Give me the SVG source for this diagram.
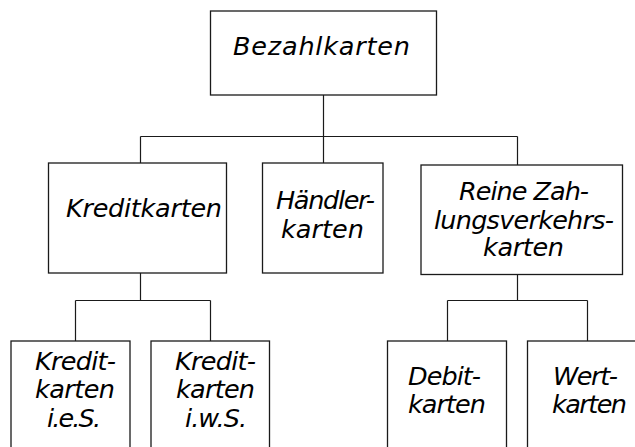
<svg xmlns="http://www.w3.org/2000/svg" width="635" height="447" viewBox="0 0 635 447">
<style>
.box{fill:#fff;stroke:#1a1a1a;stroke-width:1.3}
.ln{fill:none;stroke:#1a1a1a;stroke-width:1.2}
text{font-family:"DejaVu Sans","Liberation Sans",sans-serif;font-style:italic;font-size:25.5px;fill:#000}
</style>
<rect width="635" height="447" fill="#fff"/>
<g id="connectors">
<path class="ln" d="M323.5 95V136.5M140.5 136.5H517.5M140.5 136.5V163M323.5 136.5V163M517.5 136.5V165"/>
<path class="ln" d="M140.5 273V300.5M75.5 300.5H210.5M75.5 300.5V341M210.5 300.5V341"/>
<path class="ln" d="M517.5 274V300.5M447.5 300.5H587.5M447.5 300.5V341M587.5 300.5V341"/>
</g>
<g id="bezahlkarten">
<rect class="box" x="210.5" y="11" width="226" height="84"/>
<text x="233" y="55" textLength="177" lengthAdjust="spacing">Bezahlkarten</text>
</g>
<g id="kreditkarten">
<rect class="box" x="48.5" y="163" width="178" height="110"/>
<text x="66" y="217" textLength="156" lengthAdjust="spacing">Kreditkarten</text>
</g>
<g id="haendlerkarten">
<rect class="box" x="262.5" y="163" width="120.5" height="110"/>
<text x="276" y="209" textLength="99" lengthAdjust="spacing">Händler-</text>
<text x="281" y="238" textLength="83" lengthAdjust="spacing">karten</text>
</g>
<g id="zahlungsverkehrskarten">
<rect class="box" x="421" y="165" width="201.5" height="109.5"/>
<text x="459" y="200" textLength="130" lengthAdjust="spacing">Reine Zah-</text>
<text x="434" y="229" textLength="180" lengthAdjust="spacing">lungsverkehrs-</text>
<text x="483" y="256" textLength="81" lengthAdjust="spacing">karten</text>
</g>
<g id="kreditkarten-ies">
<rect class="box" x="11" y="341" width="119" height="120"/>
<text x="35" y="370" textLength="81" lengthAdjust="spacing">Kredit-</text>
<text x="35" y="398" textLength="80" lengthAdjust="spacing">karten</text>
<text x="47" y="427" textLength="54" lengthAdjust="spacing">i.e.S.</text>
</g>
<g id="kreditkarten-iws">
<rect class="box" x="151" y="341" width="118.5" height="120"/>
<text x="175" y="370" textLength="81" lengthAdjust="spacing">Kredit-</text>
<text x="176" y="398" textLength="79" lengthAdjust="spacing">karten</text>
<text x="185" y="427" textLength="62" lengthAdjust="spacing">i.w.S.</text>
</g>
<g id="debitkarten">
<rect class="box" x="387.5" y="341" width="119" height="120"/>
<text x="408" y="385" textLength="73" lengthAdjust="spacing">Debit-</text>
<text x="408" y="413" textLength="78" lengthAdjust="spacing">karten</text>
</g>
<g id="wertkarten">
<rect class="box" x="527.5" y="341" width="130" height="120"/>
<text x="553" y="385" textLength="65" lengthAdjust="spacing">Wert-</text>
<text x="552" y="413" textLength="75" lengthAdjust="spacing">karten</text>
</g>
</svg>
